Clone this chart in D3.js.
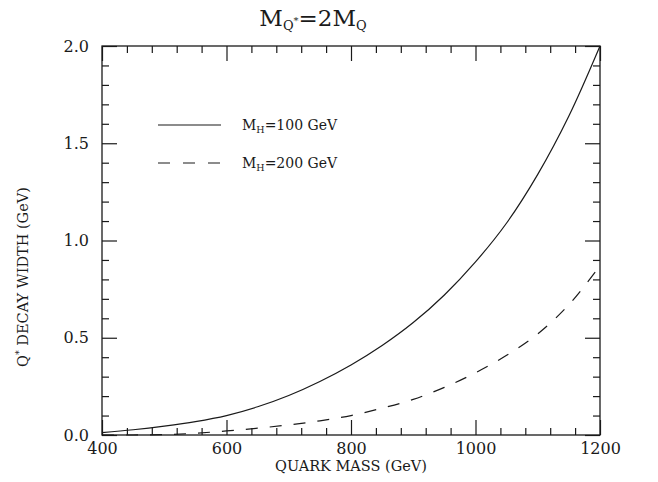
<!DOCTYPE html>
<html>
<head>
<meta charset="utf-8">
<script src="https://cdn.jsdelivr.net/npm/d3@7"></script>
<style>
  html, body { margin: 0; padding: 0; background: #fff; }
  svg { display: block; }
  text { font-family: "DejaVu Serif", "Liberation Serif", serif; fill: #1a1a1a; }
</style>
</head>
<body>
<svg id="chart" width="658" height="482"></svg>
<script>
// Quark mass grid (GeV) and decay widths of the excited quark Q* (GeV)
const quarkMass = [400, 450, 500, 550, 600, 650, 700, 750, 800, 850, 900, 950, 1000, 1050, 1100, 1150, 1200];
const widthMH100 = [0.012, 0.027, 0.046, 0.069, 0.100, 0.145, 0.203, 0.275, 0.360, 0.460, 0.578, 0.720, 0.890, 1.090, 1.340, 1.640, 2.000];
const widthMH200 = [0.000, 0.000, 0.002, 0.009, 0.021, 0.035, 0.052, 0.073, 0.100, 0.138, 0.183, 0.245, 0.320, 0.410, 0.520, 0.670, 0.870];

const seriesNames = ["M_H=100 GeV", "M_H=200 GeV"];
const xTickValues = [400, 600, 800, 1000, 1200];
const xTickLabels = ["400", "600", "800", "1000", "1200"];
const yTickValues = [0, 0.5, 1.0, 1.5, 2.0];
const yTickLabels = ["0.0", "0.5", "1.0", "1.5", "2.0"];
const xMinorTicks = d3.range(400, 1201, 40).filter(v => !xTickValues.includes(v));
const yMinorTicks = d3.range(0, 21, 1).map(v => v / 10).filter(v => !yTickValues.some(t => Math.abs(t - v) < 1e-9));

const svg = d3.select("#chart");
const plot = { left: 102, right: 600, top: 46, bottom: 435 };

const x = d3.scaleLinear().domain([400, 1200]).range([plot.left, plot.right]);
const y = d3.scaleLinear().domain([0, 2]).range([plot.bottom, plot.top]);

const ink = "#1a1a1a";
const major = 15, minor = 7;

function styleAxis(g) {
  g.select(".domain").remove();
  g.selectAll(".tick line").attr("stroke", ink).attr("stroke-width", 1.2);
}

// bottom axis with labels, ticks pointing inward
svg.append("g").attr("transform", `translate(0,${plot.bottom})`)
  .call(d3.axisBottom(x).tickValues(xTickValues).tickSize(-major).tickPadding(6)
    .tickFormat((d, i) => xTickLabels[i]))
  .call(styleAxis)
  .call(g => g.selectAll("text").attr("font-size", 16).attr("fill", ink)
    .attr("font-family", "DejaVu Serif").attr("dy", "0.8em"));
svg.append("g").attr("transform", `translate(0,${plot.bottom})`)
  .call(d3.axisBottom(x).tickValues(xMinorTicks).tickSize(-minor).tickFormat(""))
  .call(styleAxis);

// top axis, ticks only
svg.append("g").attr("transform", `translate(0,${plot.top})`)
  .call(d3.axisTop(x).tickValues(xTickValues).tickSize(-major).tickFormat(""))
  .call(styleAxis);
svg.append("g").attr("transform", `translate(0,${plot.top})`)
  .call(d3.axisTop(x).tickValues(xMinorTicks).tickSize(-minor).tickFormat(""))
  .call(styleAxis);

// left axis with labels
svg.append("g").attr("transform", `translate(${plot.left},0)`)
  .call(d3.axisLeft(y).tickValues(yTickValues).tickSize(-major).tickPadding(13)
    .tickFormat((d, i) => yTickLabels[i]))
  .call(styleAxis)
  .call(g => g.selectAll("text").attr("font-size", 16).attr("fill", ink)
    .attr("font-family", "DejaVu Serif"));
svg.append("g").attr("transform", `translate(${plot.left},0)`)
  .call(d3.axisLeft(y).tickValues(yMinorTicks).tickSize(-minor).tickFormat(""))
  .call(styleAxis);

// right axis, ticks only
svg.append("g").attr("transform", `translate(${plot.right},0)`)
  .call(d3.axisRight(y).tickValues(yTickValues).tickSize(-major).tickFormat(""))
  .call(styleAxis);
svg.append("g").attr("transform", `translate(${plot.right},0)`)
  .call(d3.axisRight(y).tickValues(yMinorTicks).tickSize(-minor).tickFormat(""))
  .call(styleAxis);

// frame
svg.append("rect")
  .attr("x", plot.left).attr("y", plot.top)
  .attr("width", plot.right - plot.left).attr("height", plot.bottom - plot.top)
  .attr("fill", "none").attr("stroke", ink).attr("stroke-width", 1.3);

// curves
const line = d3.line().x(d => x(d[0])).y(d => y(d[1])).curve(d3.curveCatmullRom.alpha(0.5));
const solidData = quarkMass.map((m, i) => [m, widthMH100[i]]);
const dashedData = quarkMass.map((m, i) => [m, widthMH200[i]]);

svg.append("path").datum(solidData).attr("d", line)
  .attr("fill", "none").attr("stroke", ink).attr("stroke-width", 1.2);
svg.append("path").datum(dashedData).attr("d", line)
  .attr("fill", "none").attr("stroke", ink).attr("stroke-width", 1.2)
  .attr("stroke-dasharray", "12,12");

// legend
const legend = [
  { dash: null, y: 125, label: seriesNames[0] },
  { dash: "12,13", y: 163, label: seriesNames[1] }
];
legend.forEach(item => {
  svg.append("line").attr("x1", 158).attr("x2", 221).attr("y1", item.y).attr("y2", item.y)
    .attr("stroke", ink).attr("stroke-width", 1.2)
    .attr("stroke-dasharray", item.dash);
  const [lhs, rhs] = item.label.split("=");
  const t = svg.append("text").attr("x", 242).attr("y", item.y + 5).attr("font-size", 14);
  t.append("tspan").text("M");
  t.append("tspan").attr("font-size", 9.5).attr("dy", 3).text(lhs.split("_")[1]);
  t.append("tspan").attr("dy", -3).text("=" + rhs.replace(" ", "\u00a0"));
});

// title  M_{Q*} = 2 M_Q
const title = svg.append("text").attr("x", 313).attr("y", 26)
  .attr("text-anchor", "middle").attr("font-family", "Liberation Serif").attr("font-size", 23);
title.append("tspan").text("M");
title.append("tspan").attr("font-size", 13).attr("dy", 4).text("Q");
title.append("tspan").attr("font-size", 10).attr("dy", -6).text("*");
title.append("tspan").attr("dy", 2).text("=2M");
title.append("tspan").attr("font-size", 13).attr("dy", 4).text("Q");

// axis titles
svg.append("text").attr("x", (plot.left + plot.right) / 2).attr("y", 471)
  .attr("text-anchor", "middle").attr("font-size", 14.5).text("QUARK MASS (GeV)");

const yl = svg.append("text")
  .attr("transform", "translate(28,277) rotate(-90)")
  .attr("text-anchor", "middle").attr("font-size", 14.5);
yl.append("tspan").text("Q");
yl.append("tspan").attr("font-size", 9.5).attr("dy", -6).text("*");
yl.append("tspan").attr("dy", 6).text(" DECAY WIDTH (GeV)");
</script>
</body>
</html>
